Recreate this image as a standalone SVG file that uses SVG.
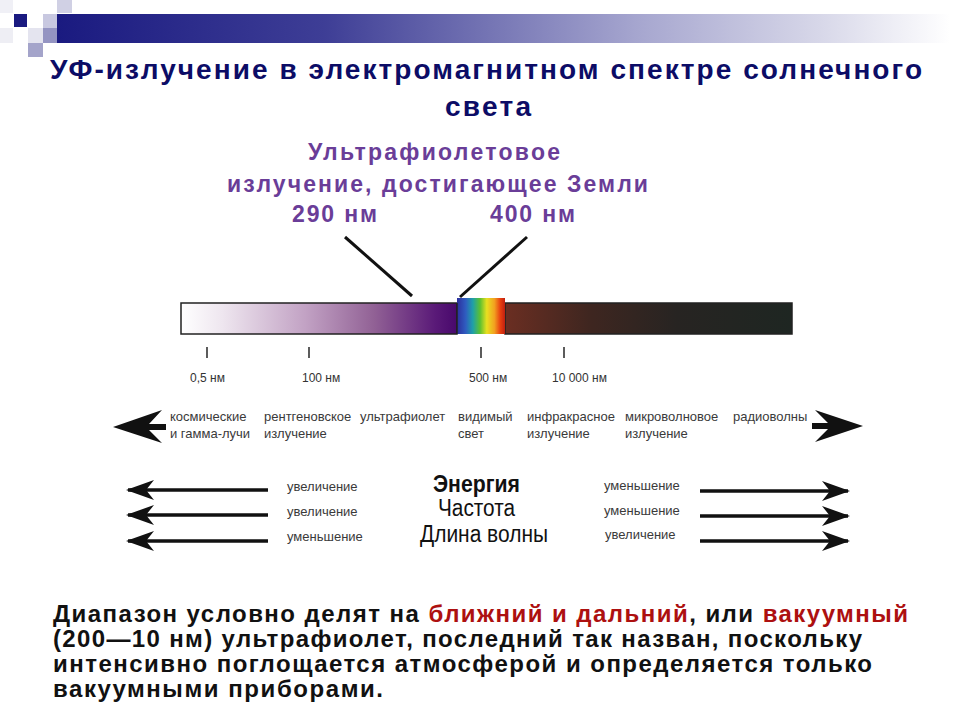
<svg xmlns="http://www.w3.org/2000/svg" width="960" height="720" viewBox="0 0 960 720">
<defs>
<linearGradient id="topbar" x1="0" y1="0" x2="1" y2="0">
<stop offset="0" stop-color="#1a1a80"/>
<stop offset="0.3" stop-color="#3e3e96"/>
<stop offset="0.65" stop-color="#a6a6cf"/>
<stop offset="0.85" stop-color="#d6d6e8"/>
<stop offset="1" stop-color="#ffffff"/>
</linearGradient>
<linearGradient id="uvgrad" x1="0" y1="0" x2="1" y2="0">
<stop offset="0" stop-color="#ffffff"/>
<stop offset="0.15" stop-color="#eee6ef"/>
<stop offset="0.45" stop-color="#c2a2c4"/>
<stop offset="0.7" stop-color="#916195"/>
<stop offset="0.92" stop-color="#5a1a78"/>
<stop offset="1" stop-color="#48086c"/>
</linearGradient>
<linearGradient id="rainbow" x1="0" y1="0" x2="1" y2="0">
<stop offset="0" stop-color="#2c2e9c"/>
<stop offset="0.18" stop-color="#2f5cc0"/>
<stop offset="0.33" stop-color="#1fa0a8"/>
<stop offset="0.48" stop-color="#5cc030"/>
<stop offset="0.62" stop-color="#e8e020"/>
<stop offset="0.78" stop-color="#f2a020"/>
<stop offset="0.9" stop-color="#e84010"/>
<stop offset="1" stop-color="#c02010"/>
</linearGradient>
<linearGradient id="irgrad" x1="0" y1="0" x2="1" y2="0">
<stop offset="0" stop-color="#6b2e22"/>
<stop offset="0.3" stop-color="#3e2620"/>
<stop offset="0.6" stop-color="#272422"/>
<stop offset="1" stop-color="#1e2622"/>
</linearGradient>
<marker id="ah" markerUnits="userSpaceOnUse" viewBox="0 0 28 20" markerWidth="28" markerHeight="20" refX="26" refY="10" orient="auto">
<path d="M0,0 L28,10 L0,20 L8,10 Z" fill="#111"/>
</marker>
</defs>
<style>
.title{font-family:"Liberation Sans",Arial,sans-serif;font-weight:bold;font-size:28px;fill:#0c0c66}
.purple{font-family:"Liberation Sans",Arial,sans-serif;font-weight:bold;font-size:23px;fill:#6a3d98}
.small{font-family:"Liberation Sans",Arial,sans-serif;font-size:13px;fill:#3a3a3a}
.tick{font-family:"Liberation Sans",Arial,sans-serif;font-size:12px;fill:#333}
.big{font-family:"Liberation Sans",Arial,sans-serif;font-size:23px;fill:#111}
.body{font-family:"Liberation Sans",Arial,sans-serif;font-weight:bold;font-size:24px;fill:#111}
.red{fill:#ad1010}
.ptr{stroke:#111;stroke-width:3;fill:none}
.arr{stroke:#111;stroke-width:3.5;fill:none}
.tk{stroke:#333;stroke-width:1.6}
</style>
<rect width="960" height="720" fill="#ffffff"/>

<g id="decor">
<rect x="0" y="0" width="13" height="13" fill="#f0f0f6"/>
<rect x="57" y="0" width="15" height="13" fill="#d0d0e4"/>
<rect x="14" y="14" width="13" height="13" fill="#1a1a80"/>
<rect x="43" y="14" width="14" height="14" fill="#c8c8e0"/>
<rect x="28" y="28" width="15" height="15" fill="#e4e4ef"/>
<rect x="43" y="28" width="14" height="15" fill="#9494c2"/>
<rect x="28" y="43" width="15" height="14" fill="#a4a4ca"/>
<rect x="0" y="28" width="13" height="15" fill="#eeeef4"/>
<rect x="57" y="14" width="893" height="29" fill="url(#topbar)"/>
</g>

<g id="title">
<text class="title" x="50" y="79" textLength="872" lengthAdjust="spacing">УФ-излучение в электромагнитном спектре солнечного</text>
<text class="title" x="445" y="116" textLength="86" lengthAdjust="spacing">света</text>
</g>

<g id="uv-label">
<text class="purple" x="308" y="160" textLength="252" lengthAdjust="spacing">Ультрафиолетовое</text>
<text class="purple" x="227" y="192" textLength="421" lengthAdjust="spacing">излучение, достигающее Земли</text>
<text class="purple" x="292" y="222" textLength="85" lengthAdjust="spacing">290 нм</text>
<text class="purple" x="490" y="222" textLength="85" lengthAdjust="spacing">400 нм</text>
</g>

<g id="spectrum-bar">
<rect x="181" y="303" width="276" height="31" fill="url(#uvgrad)" stroke="#222" stroke-width="1.5"/>
<rect x="505" y="303" width="287" height="31" fill="url(#irgrad)" stroke="#222" stroke-width="1.5"/>
<rect x="457" y="298" width="48" height="36" fill="url(#rainbow)"/>
<line x1="457" y1="303" x2="457" y2="334" stroke="#222" stroke-width="1.5"/>
</g>

<g id="scale">
<line class="tk" x1="207" y1="347" x2="207" y2="358"/>
<line class="tk" x1="309" y1="347" x2="309" y2="358"/>
<line class="tk" x1="481" y1="347" x2="481" y2="358" stroke-width="2"/>
<line class="tk" x1="564" y1="347" x2="564" y2="358"/>
<text class="tick" x="190" y="382">0,5 нм</text>
<text class="tick" x="302" y="382">100 нм</text>
<text class="tick" x="469" y="382">500 нм</text>
<text class="tick" x="552" y="382">10 000 нм</text>
</g>

<g id="bands">
<text class="small" x="170" y="421">космические</text>
<text class="small" x="170" y="438">и гамма-лучи</text>
<text class="small" x="264" y="421">рентгеновское</text>
<text class="small" x="264" y="438">излучение</text>
<text class="small" x="360" y="421">ультрафиолет</text>
<text class="small" x="458" y="421">видимый</text>
<text class="small" x="458" y="438">свет</text>
<text class="small" x="527" y="421">инфракрасное</text>
<text class="small" x="527" y="438">излучение</text>
<text class="small" x="625" y="421">микроволновое</text>
<text class="small" x="625" y="438">излучение</text>
<text class="small" x="733" y="421">радиоволны</text>
</g>

<g id="energy">
<text class="big" x="433" y="492" font-weight="bold" textLength="87" lengthAdjust="spacingAndGlyphs">Энергия</text>
<text class="big" x="438" y="516" textLength="77" lengthAdjust="spacingAndGlyphs">Частота</text>
<text class="big" x="420" y="542" textLength="128" lengthAdjust="spacingAndGlyphs">Длина волны</text>
<text class="small" x="287" y="491">увеличение</text>
<text class="small" x="287" y="516">увеличение</text>
<text class="small" x="287" y="541">уменьшение</text>
<text class="small" x="604" y="490">уменьшение</text>
<text class="small" x="604" y="515">уменьшение</text>
<text class="small" x="605" y="539">увеличение</text>
</g>

<g id="connectors">
<line class="ptr" x1="345" y1="237" x2="412" y2="296"/>
<line class="ptr" x1="527" y1="237" x2="460" y2="297"/>
<path d="M113,427 L162,410 L149,424 L166,424 L166,430 L149,430 L162,443 Z" fill="#111"/>
<path d="M863,426 L815,410 L828,423 L812,423 L812,429 L828,429 L815,442 Z" fill="#111"/>
<line class="arr" x1="268" y1="490" x2="128" y2="490" marker-end="url(#ah)"/>
<line class="arr" x1="268" y1="515" x2="128" y2="515" marker-end="url(#ah)"/>
<line class="arr" x1="268" y1="541" x2="128" y2="541" marker-end="url(#ah)"/>
<line class="arr" x1="700" y1="491" x2="848" y2="491" marker-end="url(#ah)"/>
<line class="arr" x1="700" y1="516" x2="848" y2="516" marker-end="url(#ah)"/>
<line class="arr" x1="700" y1="541" x2="848" y2="541" marker-end="url(#ah)"/>
</g>

<g id="caption">
<text class="body" x="53" y="622" textLength="855" lengthAdjust="spacing">Диапазон условно делят на <tspan class="red">ближний и дальний</tspan>, или <tspan class="red">вакуумный</tspan></text>
<text class="body" x="53" y="647" textLength="809" lengthAdjust="spacing">(200—10 нм) ультрафиолет, последний так назван, поскольку</text>
<text class="body" x="53" y="672" textLength="819" lengthAdjust="spacing">интенсивно поглощается атмосферой и определяется только</text>
<text class="body" x="53" y="697" textLength="330" lengthAdjust="spacing">вакуумными приборами.</text>
</g>
</svg>
